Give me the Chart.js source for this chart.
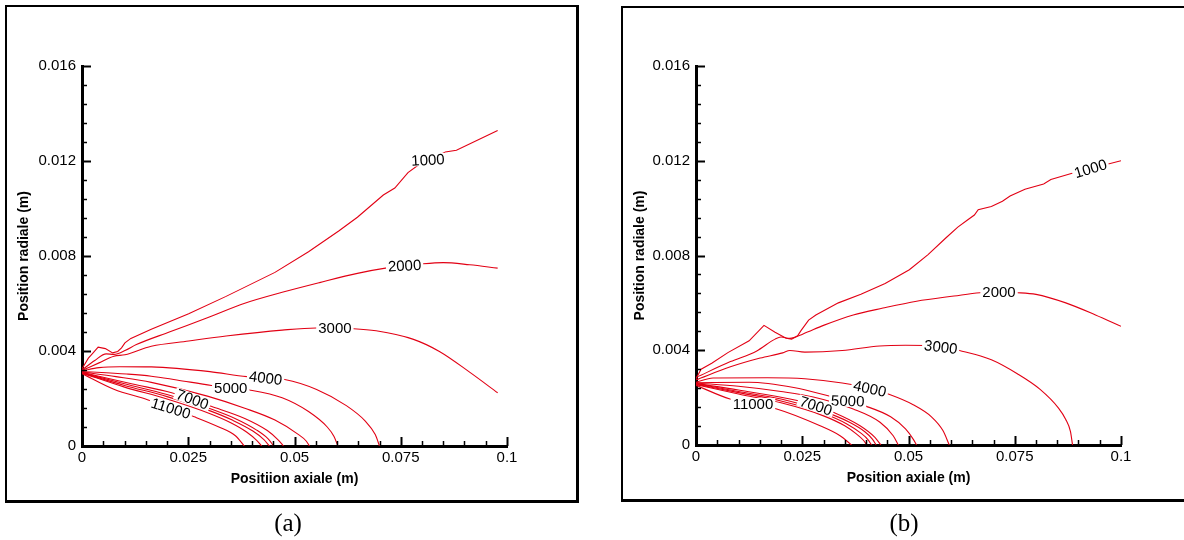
<!DOCTYPE html>
<html><head><meta charset="utf-8">
<script src="https://cdn.jsdelivr.net/npm/chart.js@4.4.1/dist/chart.umd.min.js"></script>
<style>
html,body{margin:0;padding:0;background:#fff;}
#wrap{position:relative;width:1184px;height:540px;overflow:hidden;background:#fff;}
.frame{position:absolute;box-sizing:border-box;border-style:solid;border-color:#000;}
canvas{position:absolute;top:0;}
.cap{position:absolute;width:100px;text-align:center;font-family:'Liberation Serif','Times New Roman',serif;font-size:25px;line-height:30px;top:508px;color:#000;}
</style></head><body>
<div id="wrap">
<div class="frame" style="left:5px;top:5px;width:574px;height:498px;border-width:2px 3px 3px 2px;"></div>
<div class="frame" style="left:621px;top:6px;width:620px;height:496px;border-width:2px 3px 3px 2px;"></div>
<canvas id="ca" width="590" height="540" style="left:0"></canvas>
<canvas id="cb" width="584" height="540" style="left:600px"></canvas>
<div class="cap" style="left:238px">(a)</div>
<div class="cap" style="left:854px">(b)</div>
</div>
<script>
// ---- data ----
const levels = [1000, 2000, 3000, 4000, 5000, 6000, 7000, 8000, 9000, 10000, 11000];
const xTicks = [0, 0.025, 0.05, 0.075, 0.1];
const yTicks = [0, 0.004, 0.008, 0.012, 0.016];

// panel (a)
const a1000 = [[0,0.00325],[0.0015,0.0037],[0.0022,0.00384],[0.0038,0.00416],[0.0055,0.0041],[0.0072,0.00392],[0.0084,0.00398],[0.0093,0.00413],[0.0101,0.00434],[0.0115,0.00453],[0.0163,0.00492],[0.0251,0.00557],[0.0339,0.0063],[0.0454,0.00731],[0.0533,0.00818],[0.0604,0.00905],[0.0648,0.00963],[0.0709,0.01057],[0.0736,0.01086],[0.0767,0.01151],[0.0789,0.0118],[0.0855,0.01238],[0.0881,0.01245],[0.0978,0.01328]];
const a2000 = [[0,0.0032],[0.003,0.0036],[0.0057,0.00388],[0.0075,0.00386],[0.0101,0.00402],[0.0128,0.00427],[0.0207,0.00481],[0.0295,0.0054],[0.0383,0.00601],[0.0471,0.00647],[0.0559,0.00688],[0.0648,0.00727],[0.0714,0.00749],[0.0802,0.00767],[0.085,0.00772],[0.0912,0.00763],[0.0978,0.00749]];
const a3000 = [[0,0.00318],[0.004,0.0035],[0.0075,0.00378],[0.0101,0.00384],[0.0163,0.0042],[0.0251,0.00442],[0.0339,0.00463],[0.0471,0.00488],[0.0551,0.00497],[0.0639,0.00494],[0.0692,0.00485],[0.078,0.00449],[0.0841,0.00398],[0.0912,0.00311],[0.0978,0.00224]];
const a4000 = [[0,0.00316],[0.004,0.0033],[0.0089,0.00334],[0.0163,0.00333],[0.0223,0.00327],[0.0301,0.00313],[0.0388,0.00292],[0.0477,0.0028],[0.0552,0.00238],[0.0622,0.0017],[0.0666,0.00106],[0.069,0.00048],[0.07,0]];
const a5000 = [[0,0.00314],[0.0105,0.00303],[0.0163,0.00294],[0.0223,0.00278],[0.0305,0.00255],[0.0394,0.00236],[0.0471,0.00203],[0.0533,0.00145],[0.0577,0.0008],[0.0593,0.0004],[0.0602,0]];
const a6000 = [[0,0.00312],[0.008,0.00292],[0.0163,0.00268],[0.0295,0.0021],[0.0383,0.00159],[0.0454,0.00109],[0.0507,0.00051],[0.0528,0.0002],[0.0535,0]];
const a7000 = [[0,0.0031],[0.0119,0.00261],[0.0211,0.00224],[0.0304,0.00167],[0.0383,0.00116],[0.0436,0.00065],[0.0462,0.00025],[0.0474,0]];
const a8000 = [[0,0.00309],[0.01,0.00262],[0.02,0.00217],[0.03,0.00158],[0.036,0.00116],[0.041,0.00068],[0.0438,0.0003],[0.0451,0]];
const a9000 = [[0,0.00308],[0.01,0.00255],[0.02,0.00208],[0.03,0.00149],[0.0355,0.00108],[0.0402,0.00063],[0.0428,0.00027],[0.0441,0]];
const a10000 = [[0,0.00307],[0.01,0.00248],[0.02,0.00198],[0.03,0.00137],[0.035,0.00098],[0.0388,0.00058],[0.0411,0.00024],[0.0423,0]];
const a11000 = [[0,0.00305],[0.0075,0.00239],[0.0154,0.00195],[0.0209,0.00159],[0.0264,0.00123],[0.0322,0.0008],[0.0361,0.00043],[0.0382,0]];
const labelsA = [['1000',0.0814,0.01205,-3],['2000',0.0759,0.0076,-3],['3000',0.0595,0.00497,0],['4000',0.0432,0.00287,7],['5000',0.035,0.00245,0],['7000',0.026,0.00197,20],['11000',0.0209,0.00159,17]];

// panel (b)
const b1000 = [[0,0.0028],[0.0012,0.0032],[0.0037,0.00345],[0.0075,0.0039],[0.0125,0.0044],[0.016,0.00505],[0.0186,0.00476],[0.0212,0.00451],[0.0225,0.00447],[0.0239,0.00461],[0.0247,0.00483],[0.0265,0.00527],[0.0282,0.00549],[0.0335,0.006],[0.0388,0.00636],[0.0445,0.00682],[0.0502,0.0074],[0.0546,0.00804],[0.0589,0.00876],[0.0616,0.0092],[0.0638,0.00949],[0.0655,0.00971],[0.0664,0.00993],[0.0695,0.01007],[0.0721,0.01029],[0.0739,0.01051],[0.0774,0.0108],[0.0818,0.01102],[0.0835,0.01121],[0.0883,0.01146],[0.1,0.012]];
const b2000 = [[0,0.00285],[0.0081,0.00352],[0.0142,0.00396],[0.0186,0.00447],[0.02,0.00456],[0.0221,0.0045],[0.0252,0.00469],[0.03,0.00505],[0.037,0.00549],[0.044,0.00578],[0.0519,0.00607],[0.0607,0.00629],[0.0668,0.00643],[0.0713,0.00645],[0.0756,0.00643],[0.08,0.00636],[0.087,0.006],[0.094,0.00549],[0.1,0.00501]];
const b3000 = [[0,0.00275],[0.0081,0.0033],[0.0151,0.00367],[0.0204,0.00389],[0.0221,0.00399],[0.0256,0.00392],[0.0344,0.00399],[0.0432,0.00418],[0.0493,0.00421],[0.0576,0.00416],[0.062,0.00399],[0.0695,0.0036],[0.0756,0.00301],[0.0809,0.00236],[0.0853,0.00156],[0.087,0.00108],[0.0881,0.00058],[0.0886,0]];
const b4000 = [[0,0.00265],[0.004,0.00283],[0.0168,0.00284],[0.0256,0.0028],[0.0344,0.00262],[0.0409,0.00239],[0.0454,0.00214],[0.0511,0.0017],[0.0554,0.00119],[0.0581,0.00061],[0.0596,0]];
const b5000 = [[0,0.00263],[0.0125,0.00265],[0.023,0.00243],[0.0313,0.00207],[0.0401,0.00163],[0.0458,0.00119],[0.0493,0.00068],[0.0511,0.00025],[0.0519,0]];
const b6000 = [[0,0.00262],[0.01,0.00248],[0.02,0.00226],[0.0276,0.00203],[0.037,0.00152],[0.0433,0.00096],[0.0464,0.00039],[0.0476,0]];
const b7000 = [[0,0.0026],[0.01,0.00232],[0.0241,0.00187],[0.0282,0.00166],[0.0323,0.00138],[0.0386,0.00081],[0.0421,0.00032],[0.0435,0]];
const b8000 = [[0,0.00259],[0.01,0.00226],[0.02,0.00194],[0.03,0.00142],[0.036,0.00097],[0.0398,0.00055],[0.0415,0.00025],[0.0424,0]];
const b9000 = [[0,0.00257],[0.01,0.00221],[0.02,0.00186],[0.03,0.00133],[0.0355,0.00089],[0.0388,0.0005],[0.0405,0.00022],[0.0413,0]];
const b10000 = [[0,0.00255],[0.01,0.00215],[0.02,0.00178],[0.03,0.00123],[0.035,0.00081],[0.0378,0.00046],[0.0394,0.0002],[0.0402,0]];
const b11000 = [[0,0.00252],[0.008,0.00194],[0.0134,0.00173],[0.019,0.00152],[0.0292,0.00081],[0.0339,0.00039],[0.0366,0]];
const labelsB = [['1000',0.0928,0.01167,-17],['2000',0.0713,0.00645,0],['3000',0.0576,0.00414,7],['4000',0.0409,0.00239,12],['5000',0.0357,0.00186,2],['7000',0.0282,0.00166,18],['11000',0.0134,0.00173,0]];

const linesA = [a1000,a2000,a3000,a4000,a5000,a6000,a7000,a8000,a9000,a10000,a11000];
const linesB = [b1000,b2000,b3000,b4000,b5000,b6000,b7000,b8000,b9000,b10000,b11000];

// ---- rendering ----
const RED = 'rgb(226,0,20)';
const FONT = '"Liberation Sans", Arial, Helvetica, sans-serif';

const contourLabels = {
  id: 'contourLabels',
  afterDatasetsDraw(chart, args, opts) {
    const {ctx, scales: {x, y}} = chart;
    ctx.save();
    ctx.font = '15px ' + FONT;
    ctx.textAlign = 'center';
    ctx.textBaseline = 'middle';
    for (const [t, vx, vy, ang] of opts.items) {
      const px = x.getPixelForValue(vx), py = y.getPixelForValue(vy);
      ctx.save();
      ctx.translate(px, py);
      ctx.rotate(ang * Math.PI / 180);
      const w = ctx.measureText(t).width;
      ctx.fillStyle = '#fff';
      ctx.fillRect(-w / 2 - 2, -6, w + 4, 12);
      ctx.fillStyle = '#000';
      ctx.fillText(t, 0, 1);
      ctx.restore();
    }
    ctx.restore();
  }
};

const inwardTicks = {
  id: 'inwardTicks',
  afterDraw(chart) {
    const {ctx, scales: {x, y}, chartArea: ca} = chart;
    ctx.save();
    ctx.strokeStyle = '#000';
    for (let i = 0; i <= 20; i++) {
      const px = Math.round(x.getPixelForValue(i * 0.005)) + 0.5;
      const major = i % 5 === 0;
      ctx.lineWidth = major ? 2 : 1.5;
      ctx.beginPath();
      ctx.moveTo(px, ca.bottom);
      ctx.lineTo(px, ca.bottom - (major ? 9 : 5));
      ctx.stroke();
    }
    for (let i = 0; i <= 20; i++) {
      const py = Math.round(y.getPixelForValue(i * 0.0008)) + 0.5;
      const major = i % 5 === 0;
      ctx.lineWidth = major ? 2 : 1.5;
      ctx.beginPath();
      ctx.moveTo(ca.left, py);
      ctx.lineTo(ca.left + (major ? 9 : 5), py);
      ctx.stroke();
    }
    ctx.restore();
  }
};

function makeChart(id, lines, labels, xTitle, pad, yWidth) {
  const datasets = lines.map((pts, i) => ({
    label: String(levels[i]),
    data: pts.map(p => ({x: p[0], y: p[1]})),
    showLine: true,
    borderColor: RED,
    backgroundColor: RED,
    borderWidth: 1.1,
    pointRadius: 0,
    fill: false,
    tension: 0,
    cubicInterpolationMode: i === 0 ? 'default' : 'monotone'
  }));
  return new Chart(document.getElementById(id), {
    type: 'scatter',
    data: {datasets},
    plugins: [contourLabels, inwardTicks],
    options: {
      responsive: false,
      animation: false,
      events: [],
      layout: {padding: pad},
      plugins: {
        legend: {display: false},
        tooltip: {enabled: false},
        contourLabels: {items: labels}
      },
      scales: {
        x: {
          type: 'linear', min: 0, max: 0.1,
          afterBuildTicks: s => { s.ticks = xTicks.map(v => ({value: v})); },
          afterFit: s => { s.height = 42; },
          ticks: {color: '#000', font: {size: 15, family: FONT}, padding: 3, maxRotation: 0, autoSkip: false,
                  callback: v => String(v)},
          grid: {display: false, drawTicks: false, tickLength: 0},
          border: {display: true, color: '#000', width: 3},
          title: {display: true, text: xTitle, color: '#000', font: {size: 14, weight: 'bold', family: FONT}, padding: {top: 0, bottom: 0}}
        },
        y: {
          type: 'linear', min: 0, max: 0.016,
          afterBuildTicks: s => { s.ticks = yTicks.map(v => ({value: v})); },
          afterFit: s => { s.width = yWidth; },
          ticks: {color: '#000', font: {size: 15, family: FONT}, padding: 6, autoSkip: false,
                  callback: v => String(v)},
          grid: {display: false, drawTicks: false, tickLength: 0},
          border: {display: true, color: '#000', width: 3},
          title: {display: true, text: 'Position radiale (m)', color: '#000', font: {size: 14, weight: 'bold', family: FONT}, padding: {top: 5.6, bottom: 0}}
        }
      }
    }
  });
}

makeChart('ca', linesA, labelsA, 'Positiion axiale (m)', {left: 10, top: 66, right: 83, bottom: 52}, 72);
makeChart('cb', linesB, labelsB, 'Position axiale (m)', {left: 26, top: 66, right: 63, bottom: 53}, 70);
</script>
</body></html>
